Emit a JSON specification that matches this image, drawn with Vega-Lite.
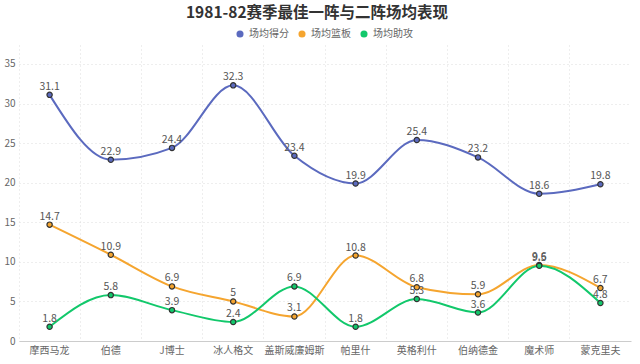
{
  "$schema": "https://vega.github.io/schema/vega-lite/v6.json",
  "width": 612,
  "height": 296,
  "autosize": {"type": "none"},
  "padding": {"left": 19, "top": 45, "right": 9, "bottom": 23},
  "background": "white",
  "title": {
    "text": "1981-82赛季最佳一阵与二阵场均表现",
    "font": "Noto Sans CJK SC",
    "fontSize": 15.5,
    "fontWeight": "bold",
    "color": "#333333",
    "anchor": "middle",
    "dx": -8,
    "offset": 8
  },
  "config": {
    "view": {"stroke": null},
    "font": "Noto Sans CJK SC"
  },
  "data": {
    "values": [
      {"player": "摩西马龙", "metric": "场均得分", "value": 31.1},
      {"player": "伯德", "metric": "场均得分", "value": 22.9},
      {"player": "J博士", "metric": "场均得分", "value": 24.4},
      {"player": "冰人格文", "metric": "场均得分", "value": 32.3},
      {"player": "盖斯威廉姆斯", "metric": "场均得分", "value": 23.4},
      {"player": "帕里什", "metric": "场均得分", "value": 19.9},
      {"player": "英格利什", "metric": "场均得分", "value": 25.4},
      {"player": "伯纳德金", "metric": "场均得分", "value": 23.2},
      {"player": "魔术师", "metric": "场均得分", "value": 18.6},
      {"player": "蒙克里夫", "metric": "场均得分", "value": 19.8},
      {"player": "摩西马龙", "metric": "场均篮板", "value": 14.7},
      {"player": "伯德", "metric": "场均篮板", "value": 10.9},
      {"player": "J博士", "metric": "场均篮板", "value": 6.9},
      {"player": "冰人格文", "metric": "场均篮板", "value": 5},
      {"player": "盖斯威廉姆斯", "metric": "场均篮板", "value": 3.1},
      {"player": "帕里什", "metric": "场均篮板", "value": 10.8},
      {"player": "英格利什", "metric": "场均篮板", "value": 6.8},
      {"player": "伯纳德金", "metric": "场均篮板", "value": 5.9},
      {"player": "魔术师", "metric": "场均篮板", "value": 9.6},
      {"player": "蒙克里夫", "metric": "场均篮板", "value": 6.7},
      {"player": "摩西马龙", "metric": "场均助攻", "value": 1.8},
      {"player": "伯德", "metric": "场均助攻", "value": 5.8},
      {"player": "J博士", "metric": "场均助攻", "value": 3.9},
      {"player": "冰人格文", "metric": "场均助攻", "value": 2.4},
      {"player": "盖斯威廉姆斯", "metric": "场均助攻", "value": 6.9},
      {"player": "帕里什", "metric": "场均助攻", "value": 1.8},
      {"player": "英格利什", "metric": "场均助攻", "value": 5.3},
      {"player": "伯纳德金", "metric": "场均助攻", "value": 3.6},
      {"player": "魔术师", "metric": "场均助攻", "value": 9.5},
      {"player": "蒙克里夫", "metric": "场均助攻", "value": 4.8}
    ]
  },
  "encoding": {
    "x": {
      "field": "player",
      "type": "nominal",
      "sort": null,
      "scale": {"type": "band", "paddingInner": 0, "paddingOuter": 0},
      "axis": {
        "title": null,
        "labelAngle": 0,
        "labelFontSize": 10,
        "labelColor": "#666666",
        "labelPadding": 4,
        "ticks": false,
        "domainColor": "#cccccc",
        "grid": true,
        "bandPosition": 0,
        "gridColor": "#dddddd",
        "gridDash": [1, 3],
        "gridWidth": 1
      }
    },
    "y": {
      "field": "value",
      "type": "quantitative",
      "scale": {"domain": [0, 37.4], "nice": false},
      "axis": {
        "title": null,
        "values": [0, 5, 10, 15, 20, 25, 30, 35],
        "labelFontSize": 10,
        "labelColor": "#666666",
        "labelPadding": 4,
        "ticks": false,
        "domain": false,
        "gridColor": "#dddddd",
        "gridDash": [1, 3],
        "gridWidth": 1
      }
    },
    "color": {
      "field": "metric",
      "type": "nominal",
      "scale": {
        "domain": ["场均得分", "场均篮板", "场均助攻"],
        "range": ["#5b6abf", "#f5a52f", "#12c86b"]
      },
      "legend": {
        "title": null,
        "orient": "none",
        "direction": "horizontal",
        "legendX": 216,
        "legendY": -16,
        "symbolType": "circle",
        "symbolSize": 50,
        "symbolStrokeWidth": 0,
        "labelFontSize": 10,
        "labelColor": "#666666",
        "labelOffset": 4,
        "columnPadding": 8
      }
    }
  },
  "layer": [
    {
      "mark": {"type": "line", "interpolate": "monotone", "strokeWidth": 2}
    },
    {
      "mark": {"type": "point", "filled": false, "size": 28, "stroke": "#333333", "strokeWidth": 1.2, "opacity": 1},
      "encoding": {
        "fill": {"field": "metric", "type": "nominal", "scale": {"domain": ["场均得分", "场均篮板", "场均助攻"], "range": ["#5b6abf", "#f5a52f", "#12c86b"]}, "legend": null}
      }
    },
    {
      "mark": {"type": "text", "baseline": "bottom", "dy": -3, "fontSize": 10.5, "color": "#555555"},
      "encoding": {
        "text": {"field": "value", "type": "nominal"},
        "color": {"value": "#555555"}
      }
    }
  ]
}
